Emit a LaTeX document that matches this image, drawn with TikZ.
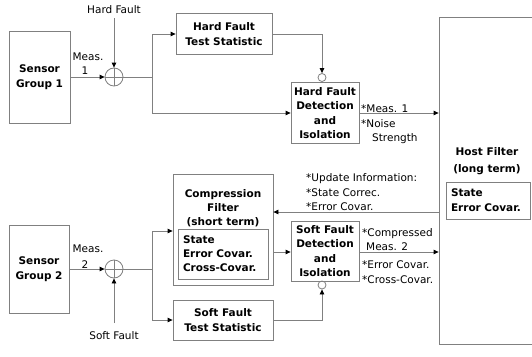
\documentclass[tikz,border=0pt]{standalone}
\usepackage{fontspec}
\setmainfont{DejaVu Sans}
\usetikzlibrary{arrows.meta,positioning,calc}
\definecolor{ln}{RGB}{128,128,128}
\begin{document}
\begin{tikzpicture}[x=1pt,y=-1pt,
  every node/.style={font=\fontsize{10.5}{14.5}\selectfont},
  box/.style={draw=ln,line width=0.8pt,rectangle,inner sep=0pt,align=center,font=\fontsize{10.5}{14.5}\selectfont\bfseries},
  inbox/.style={draw=ln,line width=0.8pt,rectangle,inner sep=5pt,align=left,font=\fontsize{10.5}{14.5}\selectfont\bfseries},
  junc/.style={draw=ln,line width=0.8pt,circle,minimum size=18pt,inner sep=0pt},
  smallc/.style={draw=ln,line width=0.8pt,circle,minimum size=8pt,inner sep=0pt},
  lbl/.style={inner sep=0pt,anchor=base west},
  clbl/.style={inner sep=0pt},
  wire/.style={draw=ln,line width=0.8pt},
  arr/.style={draw=ln,line width=0.8pt,-{Triangle[length=5pt,width=4.5pt,color=black]}}
]
\clip (0,0) rectangle (532,356);
\fill[white] (0,0) rectangle (532,356);

% sensor groups
\node[box,minimum width=61pt,minimum height=92pt] (s1) at (39.5,77) {Sensor\\Group 1};
\node[box,minimum width=60pt,minimum height=88pt] (s2) at (39,269) {Sensor\\Group 2};

% junctions
\node[junc] (j1) at (114,77) {};
\node[junc] (j2) at (114,269) {};
\draw[wire] (j1.north) -- (j1.south) (j1.west) -- (j1.east);
\draw[wire] (j2.north) -- (j2.south) (j2.west) -- (j2.east);

% boxes
\node[box,minimum width=96pt,minimum height=41pt] (hfts) at (224,34) {Hard Fault\\Test Statistic};
\node[box,minimum width=68pt,minimum height=61pt] (hfdi) at (325,113) {Hard Fault\\Detection\\and\\Isolation};
\node[smallc] (c1) at (322,77.5) {};

\node[box,minimum width=100pt,minimum height=111pt] (cf) at (223,229.5) {};
\node[clbl,align=center,font=\fontsize{10.5}{14}\selectfont\bfseries] (cft) at (223,208) {Compression\\Filter\\(short term)};
\node[inbox,minimum width=90pt,minimum height=50pt,text width=80pt,font=\fontsize{10.5}{14}\selectfont\bfseries] (cfi) at (223,254) {State\\Error Covar.\\Cross-Covar.};

\node[box,minimum width=100pt,minimum height=40pt] (sfts) at (223,320) {Soft Fault\\Test Statistic};
\node[box,minimum width=68pt,minimum height=60pt] (sfdi) at (325,251) {Soft Fault\\Detection\\and\\Isolation};
\node[smallc] (c2) at (322,285) {};

% host filter (clipped on the right)
\node[box,minimum width=110pt,minimum height=327pt] (host) at (494,180.5) {};
\node[clbl,align=center,font=\fontsize{10.5}{17}\selectfont\bfseries] (hostt) at (487,161) {Host Filter\\(long term)};
\node[inbox,minimum width=84pt,minimum height=37pt,text width=74pt,font=\fontsize{10.5}{15}\selectfont\bfseries] (hosti) at (488,200.5) {State\\Error Covar.};

% coordinates
\coordinate (hftop) at (114,18);
\coordinate (sfbot) at (114,323);
\coordinate (b1) at (152,77);
\coordinate (b2) at (152,269);

% labels
\node[clbl] (hfl) at (114,10) {Hard Fault};
\node[clbl] (sfl) at (114,336) {Soft Fault};
\node[clbl] (m1a) at (88,57) {Meas.};
\node[clbl] (m1b) at (85,71) {1};
\node[clbl] (m2a) at (88,249) {Meas.};
\node[clbl] (m2b) at (85,265) {2};

\node[lbl] (o1a) at (361,112) {*Meas. 1};
\node[lbl] (o1b) at (361,127) {*Noise};
\node[lbl] (o1c) at (372,141) {Strength};

\node[lbl] (u1) at (306,181) {*Update Information:};
\node[lbl] (u2) at (306,196) {*State Correc.};
\node[lbl] (u3) at (306,210) {*Error Covar.};

\node[lbl] (o2a) at (362,236) {*Compressed};
\node[lbl] (o2b) at (366,250) {Meas. 2};
\node[lbl] (o2c) at (362,268) {*Error Covar.};
\node[lbl] (o2d) at (362,283) {*Cross-Covar.};

% connectors, top
\draw[arr] (s1.east) -- (j1.west);
\draw[arr] (hftop) -- (j1.north);
\draw[wire] (j1.east) -- (b1);
\draw[arr] (b1) |- (hfts.west);
\draw[arr] (b1) |- (hfdi.west);
\draw[arr] (hfts.east) -| (c1.north);
\draw[arr] (hfdi.east) -- (hfdi.east -| host.west);

% connectors, bottom
\draw[arr] (s2.east) -- (j2.west);
\draw[arr] (sfbot) -- (j2.south);
\draw[wire] (j2.east) -- (b2);
\draw[arr] (b2) |- ($(cf.west)+(0,1.5)$);
\draw[arr] (b2) |- (sfts.west);
\draw[arr] (sfts.east) -| (c2.south);
\draw[arr] ($(host.west)+(0,31.5)$) -- ($(cf.east)+(0,-17.5)$);
\draw[arr] ($(cf.east)+(0,22.5)$) -- ($(sfdi.west)+(0,1)$);
\draw[arr] ($(sfdi.east)+(0,1)$) -- ($(host.west)+(0,71.5)$);
\end{tikzpicture}
\end{document}
